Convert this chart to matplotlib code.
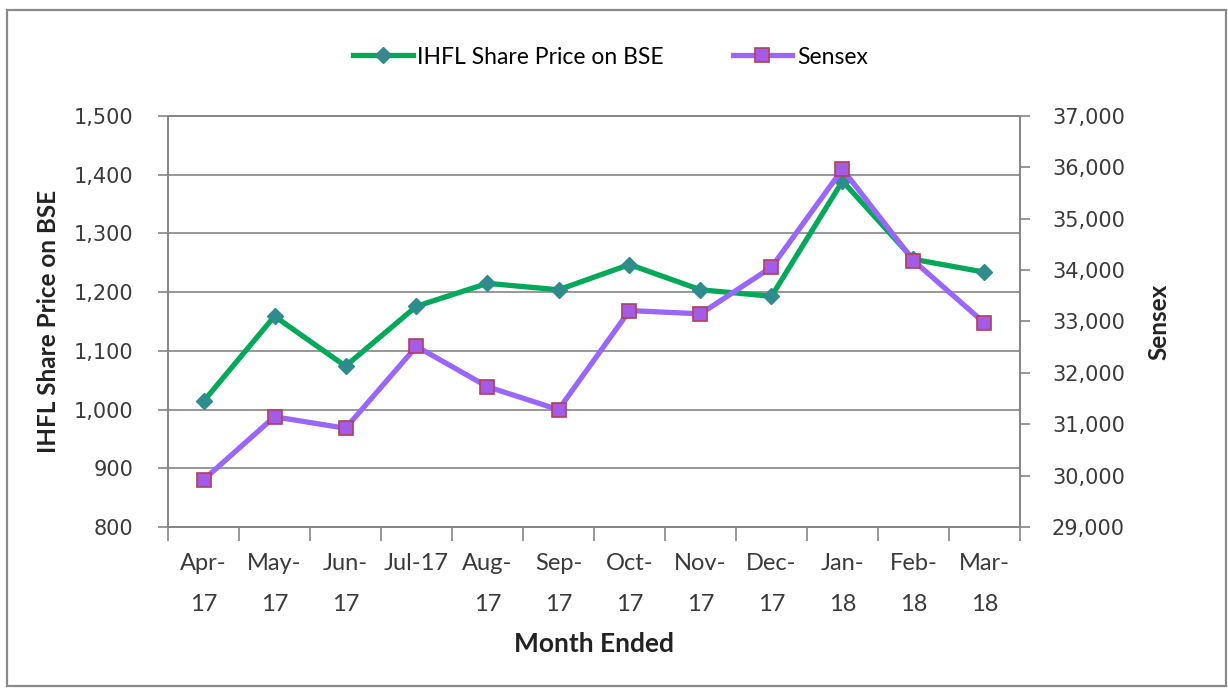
import numpy as np
import matplotlib.pyplot as plt
from matplotlib.patches import Rectangle
from matplotlib.ticker import FuncFormatter, MultipleLocator

# Month-end values
months = ['Apr-\n17', 'May-\n17', 'Jun-\n17', 'Jul-17', 'Aug-\n17', 'Sep-\n17',
          'Oct-\n17', 'Nov-\n17', 'Dec-\n17', 'Jan-\n18', 'Feb-\n18', 'Mar-\n18']
ihfl_price = [1014, 1159, 1074, 1176, 1215, 1204, 1247, 1204, 1193, 1389, 1256, 1234]
sensex = [29918, 31146, 30922, 32515, 31730, 31284, 33213, 33149, 34057, 35965, 34184, 32969]

GREEN = '#00A85A'
TEAL = '#2F8C8C'
VIOLET = '#9966FF'
GRID = '#858585'
TEXT = '#3a3a3a'

fig = plt.figure(figsize=(12.28, 6.89), dpi=100)
fig.patch.set_facecolor('white')

# outer chart frame
fig.patches.append(Rectangle((7 / 1228, 1 - 686 / 689), 1219 / 1228, 676 / 689,
                             transform=fig.transFigure, fill=False,
                             edgecolor='#8a8a8a', linewidth=1.6))

ax = fig.add_axes([168 / 1228, 1 - 527 / 689, 852 / 1228, 411 / 689])
ax2 = ax.twinx()

x = np.arange(len(months))

l1, = ax.plot(x, ihfl_price, color=GREEN, linewidth=3.8, marker='D', markersize=8,
              markerfacecolor=TEAL, markeredgecolor=TEAL, zorder=3,
              label='IHFL Share Price on BSE')
l2, = ax2.plot(x, sensex, color=VIOLET, linewidth=3.8, marker='s', markersize=10.5,
               markerfacecolor='#A35BE8', markeredgecolor='#B0405A', markeredgewidth=1.2,
               zorder=3, label='Sensex')

# left axis
ax.set_xlim(-0.5, len(months) - 0.5)
ax.set_ylim(800, 1500)
ax.yaxis.set_major_locator(MultipleLocator(100))
ax.yaxis.set_major_formatter(FuncFormatter(lambda v, p: f'{v:,.0f}'))
ax.grid(axis='y', color=GRID, linewidth=1.2)
ax.set_axisbelow(True)

# right axis
ax2.set_ylim(29000, 37000)
ax2.yaxis.set_major_locator(MultipleLocator(1000))
ax2.yaxis.set_major_formatter(FuncFormatter(lambda v, p: f'{v:,.0f}'))

for a in (ax, ax2):
    for side in ('left', 'right', 'bottom', 'top'):
        a.spines[side].set_color(GRID)
        a.spines[side].set_linewidth(1.2)

ax.tick_params(axis='y', direction='out', length=7, width=1.2, color=GRID,
               pad=18, labelsize=15, labelcolor=TEXT)
ax2.tick_params(axis='y', direction='out', length=7, width=1.2, color=GRID,
                pad=16, labelsize=15, labelcolor=TEXT)

# categories with tick marks between them
ax.set_xticks(x)
ax.set_xticklabels(months, fontfamily='Lato', fontsize=17, color=TEXT, linespacing=2.15)
ax.set_xticks(np.arange(-0.5, len(months)), minor=True)
ax.tick_params(axis='x', which='major', length=0, pad=19)
ax.tick_params(axis='x', which='minor', direction='out', length=10, width=1.2, color=GRID)
for t in ax.get_yticklabels() + ax2.get_yticklabels():
    t.set_fontfamily('DejaVu Sans')

ax.set_xlabel('Month Ended', fontfamily='Lato', fontweight='bold', fontsize=19,
              color='#222222', labelpad=12)
ax.set_ylabel('IHFL Share Price on BSE', fontfamily='Lato', fontweight='bold',
              fontsize=17.5, color='#222222', labelpad=10)
ax2.set_ylabel('Sensex', fontfamily='Lato', fontweight='bold', fontsize=17.5,
               color='#222222', labelpad=16)

fig.legend(handles=[l1, l2], loc='center', bbox_to_anchor=(0.497, 1 - 57 / 689),
           ncol=2, frameon=False, handlelength=2.6, handletextpad=0.2,
           columnspacing=3.0, prop={'family': 'Lato', 'size': 16.5})

fig.savefig('out.png', dpi=100)
